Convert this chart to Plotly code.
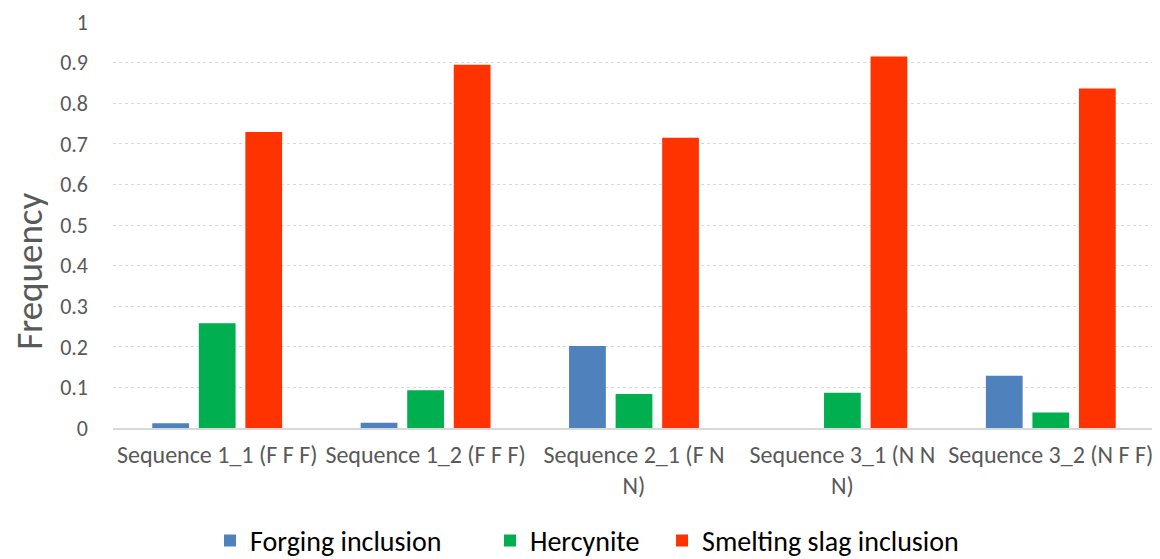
import plotly.graph_objects as go

categories = ["Sequence 1_1 (F F F)", "Sequence 1_2 (F F F)", "Sequence 2_1 (F N<br>N)",
              "Sequence 3_1 (N N<br>N)", "Sequence 3_2 (N F F)"]
forging = [0.012, 0.013, 0.202, 0.0, 0.129]
hercynite = [0.258, 0.093, 0.084, 0.087, 0.038]
smelting = [0.729, 0.895, 0.715, 0.915, 0.836]
series_names = ["Forging inclusion", "Hercynite", "Smelting slag inclusion"]
colors = ["#4f81bd", "#00b050", "#ff3300"]
y_ticks = [0, 0.1, 0.2, 0.3, 0.4, 0.5, 0.6, 0.7, 0.8, 0.9, 1]
y_tick_text = ["0", "0.1", "0.2", "0.3", "0.4", "0.5", "0.6", "0.7", "0.8", "0.9", "1"]
y_title = "Frequency"

legend_ids = ["legend", "legend2", "legend3"]
legend_x = [0.0931, 0.3618, 0.5269]

fig = go.Figure()
for name, vals, col, lid in zip(series_names, [forging, hercynite, smelting], colors, legend_ids):
    fig.add_trace(go.Bar(name=name, x=categories, y=vals, marker_color=col,
                         marker_line_width=0, legend=lid, showlegend=True))

legend_common = dict(orientation="h", xanchor="left", y=-0.278, yanchor="middle",
                     font=dict(size=28, color="#000000"), itemwidth=30,
                     bgcolor="rgba(0,0,0,0)", visible=True)

fig.add_annotation(text=y_title, textangle=-90, xref="paper", yref="paper",
                   x=-0.0806, y=0.385, xanchor="center", yanchor="middle",
                   height=38, borderpad=0,
                   showarrow=False, font=dict(size=37, color="#595959"))

fig.update_layout(
    width=1152, height=551,
    showlegend=True,
    barmode="group", bargap=0.33, bargroupgap=0.21,
    plot_bgcolor="white", paper_bgcolor="white",
    margin=dict(l=105, r=5, t=14, b=131, autoexpand=False),
    font=dict(family="Carlito, Lato", color="#595959"),
    yaxis=dict(range=[0, 1], tickvals=y_ticks, ticktext=y_tick_text,
               showgrid=True, gridcolor="#d9d9d9", griddash="dot", gridwidth=1.2,
               zeroline=False, tickfont=dict(size=22, color="#595959"),
               ticks="", ticklabelstandoff=24, automargin=False),
    xaxis=dict(showline=True, linecolor="#d9d9d9", linewidth=1.5,
               tickfont=dict(size=24, color="#595959"), ticks="", showgrid=False,
               ticklabelstandoff=4, automargin=False),
    legend=dict(x=legend_x[0], **legend_common),
    legend2=dict(x=legend_x[1], **legend_common),
    legend3=dict(x=legend_x[2], **legend_common),
)

fig.write_html("out.html")
